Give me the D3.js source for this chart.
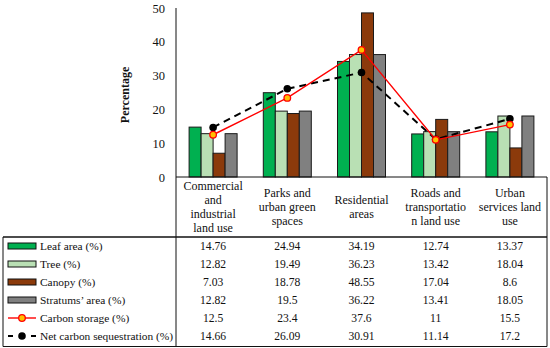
<!DOCTYPE html>
<html><head><meta charset="utf-8">
<script src="https://cdn.jsdelivr.net/npm/d3@7"></script>
<style>body{margin:0;background:#fff}svg{display:block}text{font-family:"Liberation Serif","Tinos","Times New Roman","DejaVu Serif",serif;fill:#111}</style>
</head><body><svg id="c" width="550" height="348"></svg>
<script>
const categories = [["Commercial","and","industrial","land use"],["Parks and","urban green","spaces"],["Residential","areas"],["Roads and","transportatio","n land use"],["Urban","services land","use"]];
const catKeys = ["Commercial and industrial land use","Parks and urban green spaces","Residential areas","Roads and transportation land use","Urban services land use"];
const barSeries = ["Leaf area (%)","Tree (%)","Canopy (%)","Stratums' area (%)"];
const leafArea = [14.76,24.94,34.19,12.74,13.37];
const tree = [12.82,19.49,36.23,13.42,18.04];
const canopy = [7.03,18.78,48.55,17.04,8.6];
const stratums = [12.82,19.5,36.22,13.41,18.05];
const carbonStorage = [12.5,23.4,37.6,11,15.5];
const netSequestration = [14.66,26.09,30.91,11.14,17.2];
const yTicks = [0,10,20,30,40,50];
const barColors = ["#00b050","#b9e0b4","#8b3a0b","#808080"];

const svg = d3.select("#c");
const x0 = 176, x1 = 547, yTop = 8, yBot = 177;
const x = d3.scaleBand().domain(catKeys).range([x0,x1]);
const xs = d3.scaleBand().domain(barSeries).range([0,48]);
const off = (x.bandwidth()-48)/2;
const y = d3.scaleLinear().domain([0,50]).range([yBot,yTop]);

const barData = [leafArea,tree,canopy,stratums];
barSeries.forEach((s,si)=>{
  svg.append("g").selectAll("rect").data(barData[si]).join("rect")
    .attr("x",(d,i)=>x(catKeys[i])+off+xs(s))
    .attr("y",d=>y(d))
    .attr("width",xs.bandwidth())
    .attr("height",d=>yBot-y(d))
    .attr("fill",barColors[si]).attr("stroke","#1a1a1a").attr("stroke-width",1);
});
const cx = i=>x(catKeys[i])+x.bandwidth()/2;
const line = d3.line().x((d,i)=>cx(i)).y(d=>y(d));
svg.append("path").datum(netSequestration).attr("d",line).attr("fill","none")
  .attr("stroke","#000").attr("stroke-width",2).attr("stroke-dasharray","7,5");
svg.append("path").datum(carbonStorage).attr("d",line).attr("fill","none")
  .attr("stroke","#ff0000").attr("stroke-width",1.4);
svg.append("g").selectAll("circle").data(netSequestration).join("circle")
  .attr("cx",(d,i)=>cx(i)).attr("cy",d=>y(d)).attr("r",3.8).attr("fill","#000");
svg.append("g").selectAll("circle").data(carbonStorage).join("circle")
  .attr("cx",(d,i)=>cx(i)).attr("cy",d=>y(d)).attr("r",3.3).attr("fill","#ffc000")
  .attr("stroke","#ff0000").attr("stroke-width",1.3);

const yAxis = d3.axisLeft(y).tickValues(yTicks).tickSize(0).tickPadding(11);
const ya = svg.append("g").attr("transform",`translate(${x0},0)`).call(yAxis);
ya.select(".domain").remove();
ya.selectAll("text").style("font-family","'Liberation Serif','Tinos','DejaVu Serif',serif").style("font-size","12.5px").attr("fill","#333");
svg.append("text").attr("transform","translate(125,95) rotate(-90)").attr("text-anchor","middle")
  .attr("dominant-baseline","central").style("font-size","12px").style("font-weight","bold").text("Percentage");

const L = (a,b,c,d,w)=>svg.append("line").attr("x1",a).attr("y1",b).attr("x2",c).attr("y2",d).attr("stroke","#111").attr("stroke-width",w||1);
L(x0,yTop,x0,346.5);
L(x0,yBot,x1,yBot);
L(x1,yBot,x1,346.5);
L(3,237,x1,237,1.6);
L(3,237,3,346.5);
L(3,346.5,x1,346.5,1.2);

categories.forEach((lines,i)=>{
  const n = lines.length;
  lines.forEach((t,j)=>{
    svg.append("text").attr("x",cx(i)).attr("y",207+(j-(n-1)/2)*14)
      .attr("text-anchor","middle").attr("dominant-baseline","central")
      .style("font-size","12px").text(t);
  });
});
const rowNames = ["Leaf area (%)","Tree (%)","Canopy (%)","Stratums' area (%)","Carbon storage (%)","Net carbon sequestration (%)"];
const rowData = [leafArea,tree,canopy,stratums,carbonStorage,netSequestration];
rowNames.forEach((nm,r)=>{
  const ry = 246+r*18;
  if(r<4){
    svg.append("rect").attr("x",8).attr("y",ry-3).attr("width",28).attr("height",6)
      .attr("fill",barColors[r]).attr("stroke","#111").attr("stroke-width",1);
  } else if(r===4){
    L(8,ry,36,ry,1.4).attr("stroke","#ff0000");
    svg.append("circle").attr("cx",22).attr("cy",ry).attr("r",3.3).attr("fill","#ffc000").attr("stroke","#ff0000").attr("stroke-width",1.3);
  } else {
    L(8,ry,36,ry,2).attr("stroke","#000").attr("stroke-dasharray","5,6.5");
    svg.append("circle").attr("cx",22).attr("cy",ry).attr("r",3.8).attr("fill","#000");
  }
  svg.append("text").attr("x",40).attr("y",ry).attr("dominant-baseline","central")
    .style("font-size","11.4px").text(nm.replace("'","\u2019"));
  rowData[r].forEach((v,i)=>{
    svg.append("text").attr("x",cx(i)).attr("y",ry).attr("text-anchor","middle")
      .attr("dominant-baseline","central").style("font-size","11.6px").text(v);
  });
});
</script></body></html>
